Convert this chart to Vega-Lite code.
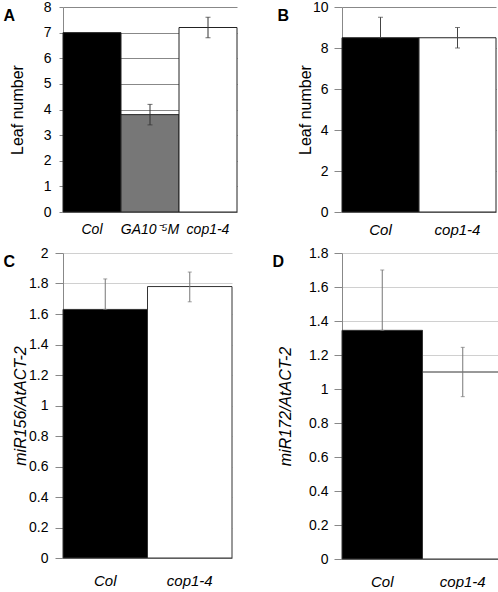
{
  "$schema": "https://vega.github.io/schema/vega-lite/v6.json",
  "padding": {"left": 3, "top": 0, "right": 0, "bottom": 0},
  "background": "white",
  "datasets": {
    "a": [
      {"genotype": "Col", "value": 7.0, "lo": null, "hi": null},
      {"genotype": "GA10⁻⁵M", "value": 3.8, "lo": 3.4, "hi": 4.2},
      {"genotype": "cop1-4", "value": 7.2, "lo": 6.8, "hi": 7.6}
    ],
    "b": [
      {"genotype": "Col", "value": 8.5, "lo": 8.5, "hi": 9.5},
      {"genotype": "cop1-4", "value": 8.5, "lo": 8.0, "hi": 9.0}
    ],
    "c": [
      {"genotype": "Col", "value": 1.63, "lo": 1.63, "hi": 1.83},
      {"genotype": "cop1-4", "value": 1.78, "lo": 1.68, "hi": 1.875}
    ],
    "d": [
      {"genotype": "Col", "value": 1.345, "lo": 1.345, "hi": 1.70},
      {"genotype": "cop1-4", "value": 1.10, "lo": 0.955, "hi": 1.245}
    ]
  },
  "config": {
    "view": {"stroke": null},
    "font": "Liberation Sans",
    "axis": {
      "labelFont": "Liberation Sans",
      "titleFont": "Liberation Sans",
      "labelFontSize": 14,
      "titleFontSize": 16,
      "labelColor": "#000",
      "titleColor": "#000",
      "titleFontWeight": "normal",
      "domainColor": "#888",
      "tickColor": "#888"
    },
    "axisX": {"ticks": false, "labelFontStyle": "italic", "labelFontSize": 15, "labelAngle": 0, "labelOverlap": false, "title": null, "grid": false},
    "axisY": {"grid": true}
  },
  "columns": 2,
  "spacing": {"row": 9, "column": 34},
  "concat": [
    {
      "width": 174,
      "height": 205,
      "data": {"name": "a"},
      "resolve": {"axis": {"y": "independent"}},
      "encoding": {
        "x": {"field": "genotype", "type": "nominal", "sort": null, "scale": {"paddingInner": 0, "paddingOuter": 0}, "axis": {"labelPadding": 10, "labelFontSize": 14}}
      },
      "layer": [
        {
          "mark": {"type": "bar", "stroke": "#222", "strokeWidth": 1},
          "encoding": {
            "y": {"field": "value", "type": "quantitative", "scale": {"domain": [0, 8]}, "axis": {"values": [0,1,2,3,4,5,6,7,8], "title": "Leaf number", "tickSize": 4, "labelPadding": 8, "titlePadding": 18, "gridColor": "#888"}},
            "fill": {"field": "genotype", "type": "nominal", "legend": null, "scale": {"domain": ["Col", "GA10⁻⁵M", "cop1-4"], "range": ["#000000", "#777777", "#ffffff"]}}
          }
        },
        {
          "transform": [{"filter": "datum.lo != null"}],
          "mark": {"type": "rule", "color": "#333", "strokeWidth": 1},
          "encoding": {"y": {"field": "lo", "type": "quantitative", "axis": {"orient": "left", "title": "A", "labels": false, "ticks": false, "domain": false, "grid": false, "titleAngle": 0, "titleAlign": "left", "titleBaseline": "top", "titleAnchor": "end", "titleFontWeight": "bold", "titleFontSize": 16, "titlePadding": 60}}, "y2": {"field": "hi"}}
        },
        {
          "transform": [{"filter": "datum.lo != null"}],
          "mark": {"type": "tick", "color": "#333", "size": 5, "thickness": 1},
          "encoding": {"y": {"field": "lo", "type": "quantitative", "axis": null}}
        },
        {
          "transform": [{"filter": "datum.lo != null"}],
          "mark": {"type": "tick", "color": "#333", "size": 5, "thickness": 1},
          "encoding": {"y": {"field": "hi", "type": "quantitative", "axis": null}}
        }
      ]
    },
    {
      "width": 154,
      "height": 205,
      "data": {"name": "b"},
      "resolve": {"axis": {"y": "independent"}},
      "encoding": {
        "x": {"field": "genotype", "type": "nominal", "sort": null, "scale": {"paddingInner": 0, "paddingOuter": 0}, "axis": {"labelPadding": 10}}
      },
      "layer": [
        {
          "mark": {"type": "bar", "stroke": "#222", "strokeWidth": 1},
          "encoding": {
            "y": {"field": "value", "type": "quantitative", "scale": {"domain": [0, 10]}, "axis": {"values": [0,2,4,6,8,10], "title": "Leaf number", "tickSize": 8, "labelPadding": 6, "titlePadding": -1, "gridColor": "#888"}},
            "fill": {"field": "genotype", "type": "nominal", "legend": null, "scale": {"domain": ["Col", "cop1-4"], "range": ["#000000", "#ffffff"]}}
          }
        },
        {
          "mark": {"type": "rule", "color": "#444", "strokeWidth": 1},
          "encoding": {"y": {"field": "lo", "type": "quantitative", "axis": {"orient": "left", "title": "B", "labels": false, "ticks": false, "domain": false, "grid": false, "titleAngle": 0, "titleAlign": "left", "titleBaseline": "top", "titleAnchor": "end", "titleFontWeight": "bold", "titleFontSize": 16, "titlePadding": 65}}, "y2": {"field": "hi"}}
        },
        {
          "mark": {"type": "tick", "color": "#444", "size": 5, "thickness": 1},
          "encoding": {"y": {"field": "lo", "type": "quantitative", "axis": null}}
        },
        {
          "mark": {"type": "tick", "color": "#444", "size": 5, "thickness": 1},
          "encoding": {"y": {"field": "hi", "type": "quantitative", "axis": null}}
        }
      ]
    },
    {
      "width": 169,
      "height": 305,
      "data": {"name": "c"},
      "resolve": {"axis": {"y": "independent"}},
      "encoding": {
        "x": {"field": "genotype", "type": "nominal", "sort": null, "scale": {"paddingInner": 0, "paddingOuter": 0}, "axis": {"labelPadding": 15}}
      },
      "layer": [
        {
          "mark": {"type": "bar", "stroke": "#333", "strokeWidth": 1},
          "encoding": {
            "y": {"field": "value", "type": "quantitative", "scale": {"domain": [0, 2]}, "axis": {"values": [0,0.2,0.4,0.6,0.8,1,1.2,1.4,1.6,1.8,2], "format": "~g", "title": "miR156/AtACT-2", "titleFontStyle": "italic", "tickSize": 8, "labelPadding": 7, "titlePadding": 0, "gridColor": "#d0d0d0"}},
            "fill": {"field": "genotype", "type": "nominal", "legend": null, "scale": {"domain": ["Col", "cop1-4"], "range": ["#000000", "#ffffff"]}}
          }
        },
        {
          "mark": {"type": "rule", "color": "#777", "strokeWidth": 1},
          "encoding": {"y": {"field": "lo", "type": "quantitative", "axis": {"orient": "left", "title": "C", "labels": false, "ticks": false, "domain": false, "grid": false, "titleAngle": 0, "titleAlign": "left", "titleBaseline": "top", "titleAnchor": "end", "titleFontWeight": "bold", "titleFontSize": 16, "titlePadding": 60}}, "y2": {"field": "hi"}}
        },
        {
          "mark": {"type": "tick", "color": "#777", "size": 4, "thickness": 1},
          "encoding": {"y": {"field": "lo", "type": "quantitative", "axis": null}}
        },
        {
          "mark": {"type": "tick", "color": "#777", "size": 4, "thickness": 1},
          "encoding": {"y": {"field": "hi", "type": "quantitative", "axis": null}}
        }
      ]
    },
    {
      "width": 161,
      "height": 306,
      "data": {"name": "d"},
      "resolve": {"axis": {"y": "independent"}},
      "encoding": {
        "x": {"field": "genotype", "type": "nominal", "sort": null, "scale": {"paddingInner": 0, "paddingOuter": 0}, "axis": {"labelPadding": 15}}
      },
      "layer": [
        {
          "mark": {"type": "bar", "stroke": "#333", "strokeWidth": 1},
          "encoding": {
            "y": {"field": "value", "type": "quantitative", "scale": {"domain": [0, 1.8]}, "axis": {"values": [0,0.2,0.4,0.6,0.8,1,1.2,1.4,1.6,1.8], "format": "~g", "title": "miR172/AtACT-2", "titleFontStyle": "italic", "tickSize": 8, "labelPadding": 6, "titlePadding": 15, "gridColor": "#d0d0d0"}},
            "fill": {"field": "genotype", "type": "nominal", "legend": null, "scale": {"domain": ["Col", "cop1-4"], "range": ["#000000", "#ffffff"]}}
          }
        },
        {
          "mark": {"type": "rule", "color": "#777", "strokeWidth": 1},
          "encoding": {"y": {"field": "lo", "type": "quantitative", "axis": {"orient": "left", "title": "D", "labels": false, "ticks": false, "domain": false, "grid": false, "titleAngle": 0, "titleAlign": "left", "titleBaseline": "top", "titleAnchor": "end", "titleFontWeight": "bold", "titleFontSize": 16, "titlePadding": 70}}, "y2": {"field": "hi"}}
        },
        {
          "mark": {"type": "tick", "color": "#777", "size": 4, "thickness": 1},
          "encoding": {"y": {"field": "lo", "type": "quantitative", "axis": null}}
        },
        {
          "mark": {"type": "tick", "color": "#777", "size": 4, "thickness": 1},
          "encoding": {"y": {"field": "hi", "type": "quantitative", "axis": null}}
        }
      ]
    }
  ]
}
